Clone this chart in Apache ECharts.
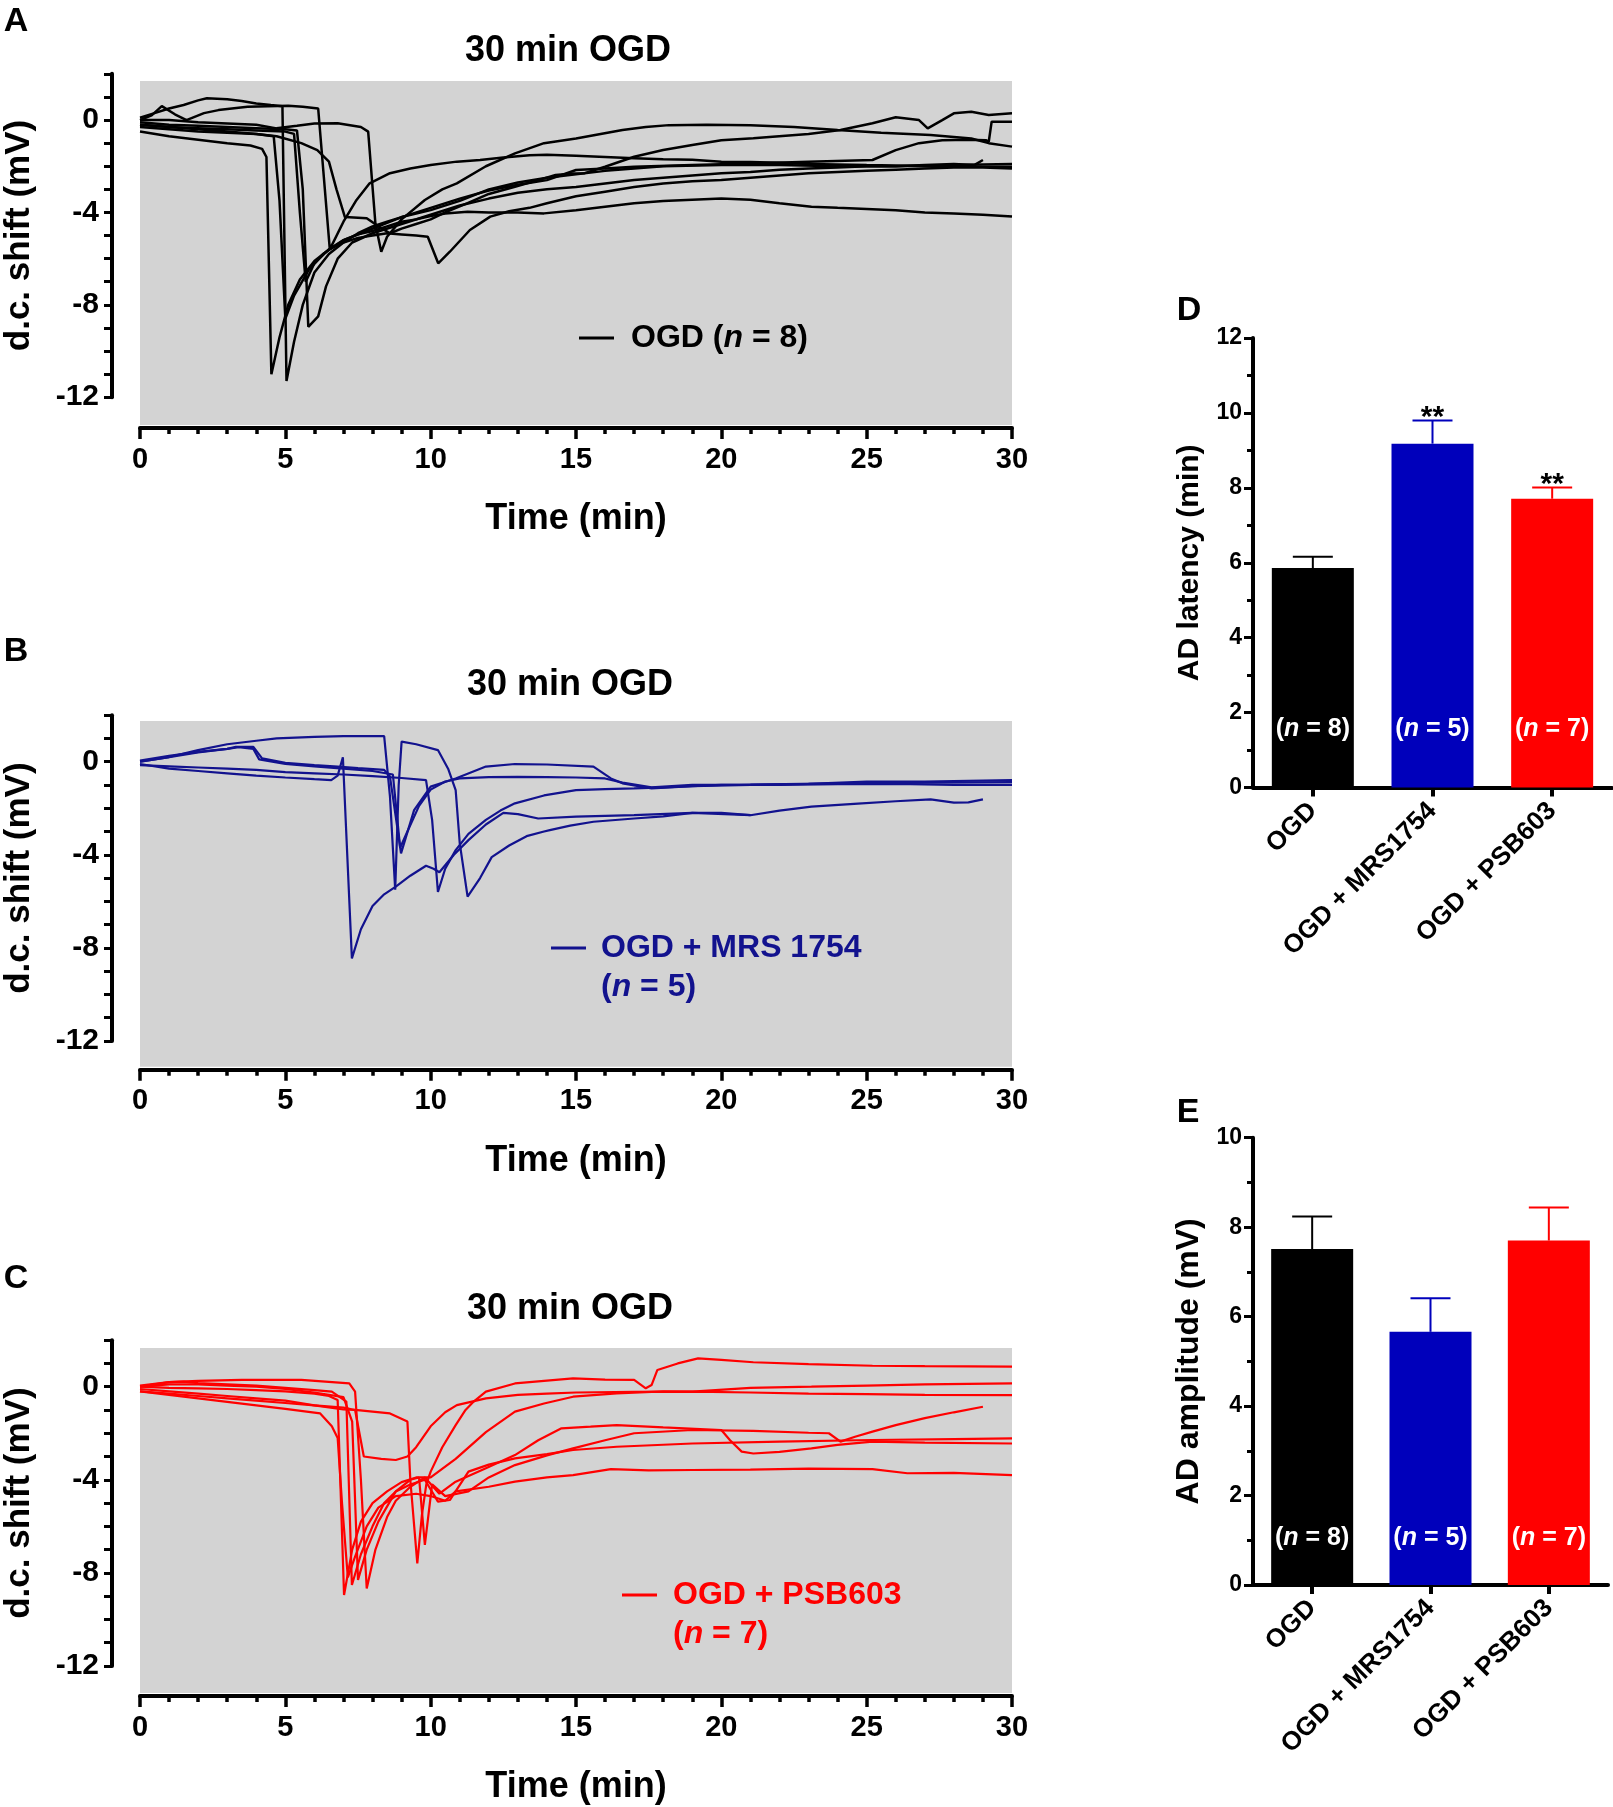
<!DOCTYPE html>
<html><head><meta charset="utf-8">
<script src="https://cdn.jsdelivr.net/npm/echarts@6/dist/echarts.min.js"></script>
<style>html,body{margin:0;padding:0;background:#fff}#c{width:1613px;height:1807px}</style>
</head><body><div id="c"></div>
<script>
// ---------------- DATA ----------------
// Panel A: OGD traces [time (min), d.c. shift (mV)]
const ogd1 = [[0,-0.5],[1,-0.7],[2,-0.85],[3,-1.0],[3.8,-1.1],[4.2,-1.25],[4.35,-1.6],[4.52,-11.0],[4.8,-9.4],[5.1,-8.0],[5.5,-6.9],[6,-6.1],[6.5,-5.6],[7,-5.3],[7.5,-5.1],[8,-5.0],[8.5,-4.9],[9,-4.95],[9.5,-5.0],[9.9,-5.05],[10.26,-6.2],[10.66,-5.7],[11.35,-4.76],[12.05,-4.18],[12.7,-3.95],[13.4,-3.8],[14,-3.6],[15,-3.3],[16,-3.1],[17,-2.9],[18,-2.75],[19,-2.65],[20,-2.6],[21,-2.5],[22,-2.4],[23,-2.3],[24,-2.25],[25,-2.2],[26,-2.15],[27,-2.1],[28,-2.05],[29,-2.05],[30,-2.1]];
const ogd2 = [[0,0.1],[0.5,0.3],[1,0.5],[1.5,0.65],[2,0.85],[2.3,0.94],[3,0.9],[3.5,0.82],[4,0.72],[4.5,0.65],[4.9,0.6],[5.04,-11.3],[5.3,-9.6],[5.6,-8.0],[6,-6.6],[6.5,-5.8],[7,-5.3],[7.5,-4.9],[8,-4.6],[8.5,-4.4],[9,-4.2],[10,-3.9],[11,-3.5],[12,-3.0],[13,-2.7],[14,-2.5],[15,-2.35],[16,-2.2],[17,-2.1],[18,-2.0],[20,-1.95],[22,-1.95],[24,-2.0],[26,-2.0],[28,-1.95],[30,-1.9]];
const ogd3 = [[0,-0.1],[1,-0.2],[2,-0.25],[3,-0.3],[4,-0.35],[5,-0.4],[5.4,-0.45],[5.6,-3.0],[5.79,-8.95],[6.13,-8.5],[6.4,-7.2],[6.8,-6.0],[7.3,-5.3],[8,-4.9],[9,-4.5],[10,-4.1],[11,-3.7],[12,-3.4],[13,-3.15],[14,-3.0],[15,-2.9],[16,-2.75],[17,-2.6],[18,-2.5],[19,-2.4],[20,-2.3],[21,-2.25],[22,-2.15],[23,-2.1],[24,-2.05],[25,-2.0],[26,-2.0],[27,-1.95],[28,-1.9],[28.7,-1.95],[29,-1.73]];
const ogd4 = [[0,0],[0.4,0.2],[0.75,0.6],[1.2,0.25],[1.6,0],[2.2,0.3],[2.7,0.43],[3.7,0.58],[5.1,0.62],[5.6,0.58],[6.13,0.5],[6.53,-5.6],[7.0,-4.4],[7.45,-3.46],[7.9,-2.74],[8.6,-2.3],[9.3,-2.1],[10,-1.95],[10.9,-1.8],[11.7,-1.73],[12.5,-1.62],[13.4,-1.52],[14,-1.5],[15,-1.55],[16,-1.6],[17,-1.65],[18,-1.7],[19,-1.72],[20,-1.8],[21,-1.82],[22,-1.85],[23,-1.9],[24,-1.92],[25,-1.95],[26,-1.97],[27,-2.0],[28,-2.0],[29,-2.02],[30,-2.02]];
const ogd5 = [[0,-0.2],[1,-0.3],[2,-0.4],[3,-0.5],[4,-0.6],[4.7,-0.7],[5.55,-1.0],[6.1,-1.3],[6.5,-1.8],[6.76,-3.0],[7.05,-4.2],[7.8,-4.25],[8.2,-4.6],[8.6,-4.9],[9,-4.7],[9.5,-4.5],[10,-4.3],[10.5,-4.0],[11.27,-3.6],[12,-3.2],[12.9,-2.89],[13.7,-2.6],[14.3,-2.38],[14.9,-2.31],[15.3,-2.3],[16,-2.02],[17,-1.59],[18,-1.3],[19,-1.08],[20,-0.87],[21.1,-0.79],[22.1,-0.69],[23,-0.6],[24.1,-0.43],[25.2,-0.14],[26,0.12],[26.8,0.0],[27.1,-0.36],[27.6,0.0],[28,0.29],[28.6,0.36],[29.2,0.22],[30,0.29]];
const ogd6 = [[0,0.0],[1,0.0],[2,-0.1],[3,-0.15],[4,-0.2],[4.7,-0.36],[5.4,-0.25],[6,-0.15],[6.8,-0.14],[7.6,-0.3],[7.85,-0.5],[8.1,-4.5],[8.3,-5.7],[8.5,-5.05],[9,-4.3],[9.8,-3.46],[10.4,-3.0],[10.9,-2.74],[11.9,-2.0],[12.9,-1.44],[13.9,-1.0],[15,-0.8],[16.6,-0.43],[17.4,-0.3],[18.2,-0.22],[19.5,-0.2],[21,-0.22],[22.5,-0.3],[24,-0.43],[25.5,-0.55],[27.2,-0.65],[28.6,-0.8],[29.2,-1.0],[30,-1.15]];
const ogd7 = [[0,-0.3],[1,-0.4],[2,-0.5],[3,-0.55],[4,-0.6],[4.6,-0.7],[4.8,-3.5],[5.0,-8.6],[5.3,-7.6],[5.8,-6.5],[6.3,-5.8],[7,-5.2],[7.6,-4.9],[8.2,-4.6],[9,-4.2],[10,-3.8],[11,-3.4],[12,-3.05],[13,-2.8],[14,-2.6],[15,-2.16],[16,-2.1],[17,-2.02],[19,-1.95],[21,-1.88],[23,-1.8],[25.2,-1.73],[26,-1.3],[26.8,-1.0],[27.6,-0.87],[28.5,-0.85],[29.1,-0.87],[29.2,-0.94],[29.3,-0.07],[30,-0.07]];
const ogd8 = [[0,-0.2],[1,-0.3],[2,-0.35],[3,-0.4],[4,-0.45],[5,-0.5],[5.3,-0.6],[5.5,-4.0],[5.7,-7.0],[6.0,-6.2],[6.5,-5.6],[7,-5.2],[7.5,-4.95],[8,-4.8],[8.5,-4.6],[9,-4.4],[9.5,-4.3],[10,-4.15],[10.5,-4.05],[11.27,-3.97],[12,-4.0],[13,-4.0],[13.9,-4.04],[15,-3.9],[16,-3.75],[17,-3.6],[18,-3.5],[19,-3.45],[20,-3.4],[21,-3.45],[22,-3.6],[23.1,-3.75],[24,-3.8],[25,-3.85],[26,-3.9],[27,-4.0],[28,-4.05],[29,-4.1],[30,-4.18]];

// Panel B: OGD + MRS 1754 traces
const mrs1 = [[0,-0.1],[1,-0.3],[2,-0.4],[3,-0.5],[4,-0.6],[5,-0.68],[6,-0.75],[6.58,-0.79],[6.8,-0.6],[6.98,0.19],[7.29,-8.45],[7.6,-7.2],[8.0,-6.2],[8.4,-5.7],[8.8,-5.37],[9.3,-4.9],[9.84,-4.47],[10.1,-4.6],[10.3,-4.75],[10.8,-4.0],[11.3,-3.37],[11.9,-2.7],[12.5,-2.2],[13,-2.25],[13.7,-2.44],[15,-2.36],[17,-2.3],[19,-2.2],[21,-2.3],[22,-2.1],[23.1,-1.93],[24.7,-1.8],[26,-1.7],[27.2,-1.62],[28,-1.76],[28.5,-1.75],[29,-1.62]];
const mrs2 = [[0,0.0],[1,0.2],[2,0.5],[3,0.75],[4,0.9],[4.7,1.0],[6,1.07],[7,1.1],[8.4,1.1],[8.6,-1.5],[8.78,-5.5],[8.9,-1.0],[9.0,0.86],[9.5,0.75],[10.25,0.5],[10.6,-0.3],[10.86,-1.22],[11.0,-3.5],[11.27,-5.8],[11.7,-5.0],[12.1,-4.1],[12.7,-3.6],[13.3,-3.2],[13.9,-3.0],[14.1,-2.94],[14.8,-2.75],[15.6,-2.58],[17,-2.44],[18,-2.35],[19,-2.2],[20,-2.2],[21,-2.3]];
const mrs3 = [[0,0],[1,0.2],[2,0.4],[3,0.55],[3.3,0.64],[3.9,0.64],[4.2,0.14],[5,-0.05],[6,-0.15],[6.8,-0.21],[7.5,-0.28],[8.4,-0.35],[8.6,-0.64],[8.98,-3.94],[9.43,-2.08],[10,-1.07],[10.86,-0.72],[11.9,-0.21],[12.9,-0.1],[14,-0.12],[15.6,-0.21],[16.2,-0.72],[16.6,-0.93],[17.6,-1.15],[19,-1.05],[21,-1.0],[23,-0.95],[25,-0.85],[27,-0.85],[30,-0.79]];
const mrs4 = [[0,-0.15],[1,-0.2],[2,-0.25],[3,-0.3],[4,-0.35],[5,-0.45],[6,-0.5],[7,-0.55],[8,-0.62],[9,-0.7],[9.84,-0.79],[10.05,-2.5],[10.25,-5.6],[10.5,-4.6],[10.86,-3.8],[11.3,-3.1],[11.9,-2.5],[12.4,-2.1],[12.9,-1.79],[13.9,-1.45],[15,-1.22],[16,-1.18],[17,-1.15],[18,-1.1],[20,-1.0],[22,-1.0],[24,-0.97],[26,-0.95],[28,-1.0],[30,-1.0]];
const mrs5 = [[0,0.05],[1,0.25],[2,0.42],[3,0.55],[3.4,0.62],[3.9,0.55],[4.1,0.1],[5,-0.1],[6,-0.2],[7,-0.3],[8,-0.4],[8.7,-0.55],[8.95,-3.7],[9.2,-3.0],[9.6,-1.9],[10,-1.2],[10.5,-0.85],[11,-0.72],[12,-0.66],[13,-0.65],[14,-0.66],[15,-0.68],[16,-0.72],[16.6,-0.9],[17.6,-1.1],[19,-1.0],[21,-0.98],[24,-0.93],[27,-0.9],[30,-0.88]];

// Panel C: OGD + PSB603 traces
const psb1 = [[0,-0.2],[1,-0.3],[2,-0.4],[3,-0.5],[4,-0.6],[5,-0.7],[6,-0.8],[7,-0.9],[7.4,-1.0],[7.7,-3.0],[8.3,-3.1],[8.8,-3.15],[9.2,-3.0],[9.5,-2.6],[10,-1.7],[10.5,-1.1],[10.9,-0.79],[11.9,-0.5],[13,-0.35],[14,-0.3],[15,-0.25],[17,-0.22],[19,-0.21],[21,-0.25],[23,-0.3],[25,-0.32],[27,-0.35],[30,-0.36]];
const psb2 = [[0,-0.1],[1,-0.2],[2,-0.3],[3,-0.4],[4,-0.5],[5,-0.6],[6,-0.8],[7,-0.98],[7.4,-1.0],[8.6,-1.15],[9.2,-1.5],[9.3,-4.0],[9.54,-7.59],[9.7,-5.5],[9.85,-4.2],[10,-3.65],[10.4,-2.6],[10.86,-1.65],[11.2,-1.0],[11.48,-0.64],[11.9,-0.21],[12.9,0.14],[13.9,0.25],[14.9,0.36],[16,0.3],[17,0.29],[17.4,-0.07],[17.6,0.07],[17.8,0.72],[18.5,1.0],[19.2,1.22],[20,1.15],[21.1,1.05],[23,0.97],[25.2,0.9],[27,0.88],[30,0.86]];
const psb3 = [[0,0],[1,-0.05],[2,-0.07],[3,-0.1],[4,-0.15],[5,-0.2],[6,-0.3],[6.5,-0.4],[6.8,-0.57],[7.02,-8.95],[7.3,-7.0],[7.6,-5.8],[8.0,-5.0],[8.5,-4.5],[9,-4.1],[9.5,-3.9],[10,-3.9],[10.86,-3.1],[11.9,-1.95],[12.9,-1.07],[13.9,-0.72],[14.9,-0.43],[16.4,-0.29],[18,-0.2],[19,-0.21],[21,-0.05],[23.1,0.0],[25,0.05],[27,0.1],[30,0.14]];
const psb4 = [[0,0.05],[1,0.2],[1.5,0.22],[2,0.15],[3,0.1],[4,0.05],[5,-0.05],[6,-0.15],[6.6,-0.21],[7.1,-0.64],[7.29,-8.52],[7.6,-7.2],[8,-6.0],[8.4,-5.0],[8.8,-4.5],[9.3,-4.2],[9.8,-4.0],[10.25,-4.94],[10.66,-4.87],[11.3,-3.65],[12,-3.35],[12.9,-3.08],[14,-2.9],[14.9,-2.72],[16.4,-2.58],[19,-2.44],[22,-2.36],[25.2,-2.29],[28,-2.25],[30,-2.22]];
const psb5 = [[0,0.0],[1,0.2],[2,0.25],[3.5,0.29],[5.55,0.29],[7.2,0.14],[7.4,-0.21],[7.6,-4.0],[7.8,-8.67],[8.1,-7.0],[8.5,-5.6],[8.8,-4.9],[9.3,-4.3],[9.8,-3.9],[10.3,-4.6],[10.86,-4.08],[11.9,-3.5],[12.9,-2.94],[13.7,-2.3],[14.5,-1.79],[15.5,-1.72],[16.4,-1.65],[18,-1.75],[20,-1.86],[20.3,-2.3],[20.7,-2.79],[21.1,-2.87],[22,-2.8],[23.1,-2.65],[24,-2.5],[25.2,-2.36],[27,-2.4],[30,-2.44]];
const psb6 = [[0,-0.2],[1,-0.35],[2,-0.5],[3,-0.65],[4,-0.8],[5,-0.95],[6.2,-1.15],[6.6,-1.7],[6.8,-2.2],[6.95,-5.0],[7.15,-8.2],[7.4,-7.3],[7.8,-6.0],[8.2,-5.2],[8.8,-4.7],[9.5,-4.6],[10,-4.7],[10.5,-4.9],[10.86,-4.5],[12,-4.3],[12.9,-4.08],[14,-3.9],[14.9,-3.8],[16.2,-3.54],[17.5,-3.6],[19,-3.58],[21,-3.56],[23,-3.52],[25.2,-3.54],[26.4,-3.72],[28,-3.7],[30,-3.8]];
const psb7 = [[0,0.0],[1,0.1],[2,0.1],[3,0.05],[4,0.0],[5,-0.1],[6,-0.25],[7,-0.45],[7.3,-1.5],[7.5,-8.3],[7.8,-7.0],[8.2,-5.8],[8.8,-4.5],[9.3,-4.0],[9.6,-3.9],[9.8,-6.8],[10.05,-4.2],[10.5,-4.7],[11.3,-4.5],[12,-3.9],[12.9,-3.37],[14,-2.95],[14.9,-2.65],[16,-2.3],[17,-2.0],[19,-1.86],[21.1,-1.9],[23,-1.98],[23.7,-2.0],[24.1,-2.36],[24.6,-2.15],[25.2,-1.93],[26,-1.65],[27,-1.35],[28,-1.1],[29,-0.86]];

// Panels D and E
const barCategories = ['OGD', 'OGD + MRS1754', 'OGD + PSB603'];
const groupN = [8, 5, 7];
const latencyMean = [5.86, 9.18, 7.71];
const latencySem = [0.30, 0.62, 0.30];
const latencySig = ['', '**', '**'];
const amplitudeMean = [7.51, 5.66, 7.70];
const amplitudeSem = [0.73, 0.75, 0.74];

// ---------------- STYLE ----------------
const FONT = '"Liberation Sans", Arial, Helvetica, sans-serif';
const BLUE_TRACE = '#12128e';
const BAR_COLORS = ['#000000', '#0000bb', '#ff0000'];
const GRAY = '#d3d3d3';

const chart = echarts.init(document.getElementById('c'), null, {renderer: 'canvas'});

const panels = [
  {grid: {top: 81, height: 344}, yMin: -13.2, yMax: 1.69, axTop: 73.8, axH: 323.4},
  {grid: {top: 721, height: 345.7}, yMin: -13.107, yMax: 1.749, axTop: 715.2, axH: 325.8},
  {grid: {top: 1348, height: 345}, yMin: -13.163, yMax: 1.663, axTop: 1340.2, axH: 325.8}
];

const grids = [], xAxes = [], yAxes = [];
panels.forEach((p) => {
  grids.push({left: 140, top: p.grid.top, width: 872, height: p.grid.height, show: true, backgroundColor: GRAY, borderWidth: 0});
  grids.push({left: 112, top: p.axTop, width: 20, height: p.axH, show: false});
  const di = xAxes.length;
  xAxes.push({
    gridIndex: di, type: 'value', min: 0, max: 30, interval: 5, position: 'bottom', offset: 3,
    axisLine: {show: true, onZero: false, lineStyle: {color: '#000', width: 4}},
    axisTick: {show: true, length: 11, lineStyle: {color: '#000', width: 3.5}},
    minorTick: {show: true, splitNumber: 5, length: 6, lineStyle: {color: '#000', width: 3.5}},
    splitLine: {show: false}, minorSplitLine: {show: false},
    axisLabel: {fontSize: 29, fontWeight: 'bold', color: '#000', fontFamily: FONT, margin: 17},
    name: 'Time (min)', nameLocation: 'middle', nameGap: 73,
    nameTextStyle: {fontSize: 36, fontWeight: 'bold', color: '#000', fontFamily: FONT}
  });
  xAxes.push({gridIndex: di + 1, type: 'value', min: 0, max: 1, show: false});
  yAxes.push({gridIndex: di, type: 'value', min: p.yMin, max: p.yMax, show: false, splitLine: {show: false}});
  yAxes.push({
    gridIndex: di + 1, type: 'value', min: -12, max: 2, interval: 1,
    axisLine: {show: true, onZero: false, lineStyle: {color: '#000', width: 4}},
    axisTick: {show: true, length: 8, lineStyle: {color: '#000', width: 3}},
    splitLine: {show: false},
    axisLabel: {formatter: (v) => (v % 4 === 0 ? String(v) : ''), fontSize: 30, fontWeight: 'bold', color: '#000', fontFamily: FONT, margin: 13},
    name: 'd.c. shift (mV)', nameLocation: 'middle', nameGap: 75,
    nameTextStyle: {fontSize: 35, fontWeight: 'bold', color: '#000', fontFamily: FONT}
  });
});

// bar grids (index 6: D, 7: E)
grids.push({left: 1253, top: 338, width: 359, height: 449.6, show: false});
grids.push({left: 1253, top: 1137.7, width: 355, height: 447.3, show: false});
[[6, 12, 'AD latency (min)', 30], [7, 10, 'AD amplitude (mV)', 32]].forEach(([gi, ymax, nm, fs]) => {
  xAxes.push({
    gridIndex: gi, type: 'category', data: barCategories,
    axisLine: {show: true, onZero: false, lineStyle: {color: '#000', width: 4}},
    axisTick: {show: true, alignWithLabel: true, length: 9, lineStyle: {color: '#000', width: 4}},
    axisLabel: {rotate: 45, interval: 0, fontSize: 26, fontWeight: 'bold', color: '#000', fontFamily: FONT, margin: 19}
  });
  yAxes.push({
    gridIndex: gi, type: 'value', min: 0, max: ymax, interval: 2,
    axisLine: {show: true, onZero: false, lineStyle: {color: '#000', width: 4}},
    axisTick: {show: true, length: 9, lineStyle: {color: '#000', width: 3}},
    minorTick: {show: true, splitNumber: 2, length: 6, lineStyle: {color: '#000', width: 3}},
    splitLine: {show: false}, minorSplitLine: {show: false},
    axisLabel: {fontSize: 23, fontWeight: 'bold', color: '#000', fontFamily: FONT, margin: 11},
    name: nm, nameLocation: 'middle', nameGap: 48,
    nameTextStyle: {fontSize: fs, fontWeight: 'bold', color: '#000', fontFamily: FONT}
  });
});

const series = [];
function addTraces(list, name, color, axisIdx, width) {
  list.forEach((tr) => series.push({
    type: 'line', name: name, xAxisIndex: axisIdx, yAxisIndex: axisIdx, data: tr,
    symbol: 'none', showSymbol: false, silent: true,
    lineStyle: {color: color, width: width}, itemStyle: {color: color}
  }));
}
addTraces([ogd1, ogd2, ogd3, ogd4, ogd5, ogd6, ogd7, ogd8], 'OGD', '#000000', 0, 2.5);
addTraces([mrs1, mrs2, mrs3, mrs4, mrs5], 'OGD + MRS 1754', BLUE_TRACE, 2, 2.2);
addTraces([psb1, psb2, psb3, psb4, psb5, psb6, psb7], 'OGD + PSB603', '#ff0000', 4, 2.2);

const nRich = {
  a: {color: '#fff', fontSize: 25, fontWeight: 'bold', fontFamily: FONT},
  i: {color: '#fff', fontSize: 25, fontWeight: 'bold', fontStyle: 'italic', fontFamily: FONT}
};
function addBars(axisIdx, means, sems, sigs, labelDist) {
  series.push({
    type: 'bar', xAxisIndex: axisIdx, yAxisIndex: axisIdx, barWidth: 82, silent: true,
    data: means.map((v, i) => ({value: v, itemStyle: {color: BAR_COLORS[i]}})),
    label: {show: true, position: 'insideBottom', distance: labelDist,
      formatter: (p) => '{a|(}{i|n}{a| = ' + groupN[p.dataIndex] + ')}', rich: nRich}
  });
  series.push({
    type: 'custom', xAxisIndex: axisIdx, yAxisIndex: axisIdx, z: 5, silent: true,
    data: means.map((m, i) => [i, m, sems[i]]),
    renderItem: (params, api) => {
      const i = api.value(0), m = api.value(1), s = api.value(2);
      const base = api.coord([i, m]);
      const top = api.coord([i, m + s]);
      const col = BAR_COLORS[i];
      const children = [
        {type: 'line', shape: {x1: base[0], y1: base[1], x2: top[0], y2: top[1]}, style: {stroke: col, lineWidth: 2}},
        {type: 'line', shape: {x1: top[0] - 20, y1: top[1], x2: top[0] + 20, y2: top[1]}, style: {stroke: col, lineWidth: 2}}
      ];
      if (sigs && sigs[i]) {
        children.push({type: 'text', style: {text: sigs[i], x: top[0], y: top[1] - 18,
          textAlign: 'center', textVerticalAlign: 'top', fontSize: 30, fontWeight: 'bold', fontFamily: FONT, fill: '#000'}});
      }
      return {type: 'group', children: children};
    }
  });
}
addBars(6, latencyMean, latencySem, latencySig, 46);
addBars(7, amplitudeMean, amplitudeSem, null, 34);

function legendRich(color) {
  return {
    a: {color: color, fill: color, fontSize: 32, fontWeight: 'bold', fontFamily: FONT, lineHeight: 32},
    i: {color: color, fill: color, fontSize: 32, fontWeight: 'bold', fontStyle: 'italic', fontFamily: FONT, lineHeight: 32}
  };
}
const legends = [
  {data: ['OGD'], left: 579, top: 322, color: '#000', padL: 12, fmt: '{a|OGD (}{i|n}{a| = 8)}'},
  {data: ['OGD + MRS 1754'], left: 551, top: 932, color: BLUE_TRACE, padL: 10, fmt: '{a|OGD + MRS 1754}'},
  {data: ['OGD + PSB603'], left: 622, top: 1579, color: '#ff0000', padL: 11, fmt: '{a|OGD + PSB603}'}
].map((l) => ({
  data: l.data, left: l.left, top: l.top, orient: 'horizontal', icon: 'rect', itemWidth: 35, itemHeight: 3,
  selectedMode: false, padding: 0, formatter: () => l.fmt,
  textStyle: {rich: legendRich(l.color), padding: [0, 0, 0, l.padL]}
}));

const titleStyle = {fontSize: 36, fontWeight: 'bold', color: '#000', fontFamily: FONT, lineHeight: 36};
const letter = (t, x, y) => ({type: 'text', x: x, y: y, style: {text: t, textAlign: 'center', textVerticalAlign: 'middle', fontSize: 34, fontWeight: 'bold', fontFamily: FONT, fill: '#000'}});
const secondLine = (t, x, y, c) => ({type: 'text', x: x, y: y, style: {text: t, fill: c, rich: legendRich(c), textAlign: 'left', textVerticalAlign: 'middle'}});

chart.setOption({
  animation: false,
  backgroundColor: '#fff',
  title: [
    {text: '30 min OGD', left: 563, top: 28, textAlign: 'center', textStyle: titleStyle},
    {text: '30 min OGD', left: 565, top: 662, textAlign: 'center', textStyle: titleStyle},
    {text: '30 min OGD', left: 565, top: 1286, textAlign: 'center', textStyle: titleStyle}
  ],
  grid: grids, xAxis: xAxes, yAxis: yAxes, legend: legends, series: series,
  graphic: [
    letter('A', 16, 22), letter('B', 16, 652), letter('C', 16, 1279),
    letter('D', 1189, 311), letter('E', 1188, 1113),
    secondLine('{a|(}{i|n}{a| = 5)}', 601, 987, BLUE_TRACE),
    secondLine('{a|(}{i|n}{a| = 7)}', 673, 1634, '#ff0000')
  ]
});
</script>
</body></html>
